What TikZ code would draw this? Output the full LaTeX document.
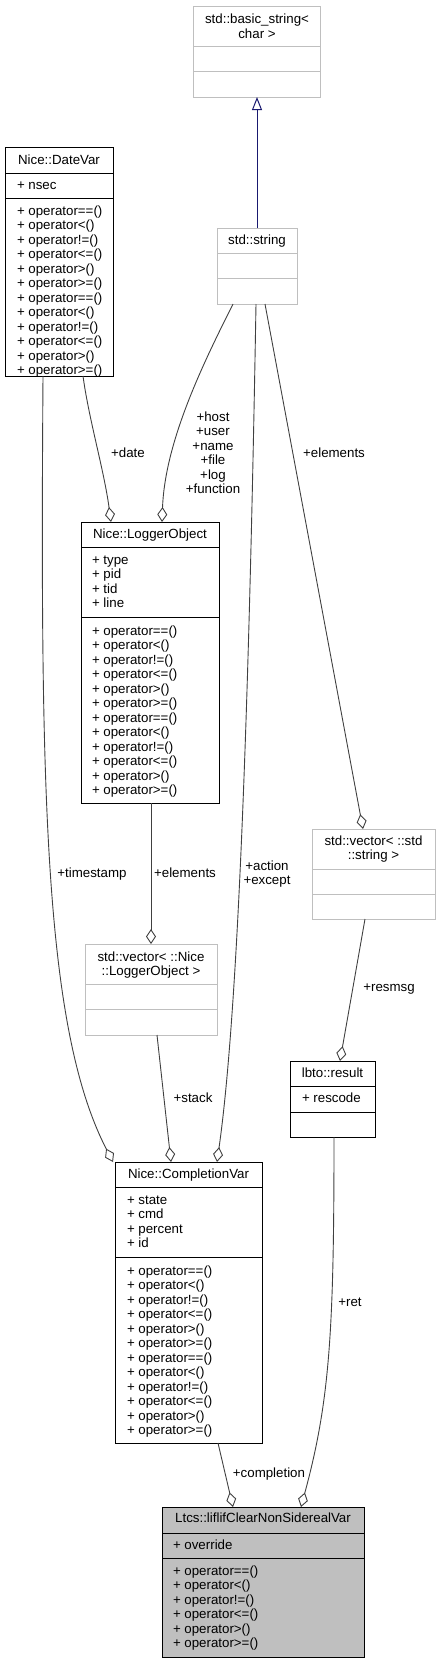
\documentclass[tikz,border=0pt]{standalone}
\usepackage{fontspec}
\newfontfamily\hv{Liberation Sans}
\usetikzlibrary{arrows.meta,calc}
\definecolor{edgec}{HTML}{404040}
\definecolor{gbord}{HTML}{BFBFBF}
\definecolor{ltfill}{HTML}{BFBFBF}
\definecolor{inhc}{HTML}{191970}
\newcommand\opsix{+ operator==()\\+ operator<()\\+ operator!=()\\+ operator<=()\\+ operator>()\\+ operator>=()}
\tikzset{
  cls/.style={draw=black, line width=1pt, fill=white, inner sep=0pt, outer sep=0pt},
  gcls/.style={draw=gbord, line width=1pt, fill=white, inner sep=0pt, outer sep=0pt},
  div/.style={draw=black, line width=1pt},
  gdiv/.style={draw=gbord, line width=1pt},
  txt/.style={font=\hv\fontsize{13.3}{14.5}\selectfont, inner sep=0pt, outer sep=0pt, text=black},
  lst/.style={txt, align=left, anchor=base west},
  ttl/.style={txt, anchor=base},
  lbl/.style={txt, align=center, anchor=center},
  conn/.style={draw=edgec, line width=0.9pt},
  agg/.style={conn, -{Diamond[open, length=15pt, width=10pt, line width=0.9pt]}},
  inh/.style={draw=inhc, line width=1pt, -{Triangle[open, length=13pt, width=10pt, line width=1pt]}}
}
\begin{document}
\begin{tikzpicture}[x=1pt,y=-1pt]
\useasboundingbox (0,0) rectangle (441,1663);
% std::basic_string<char>
\node[gcls, minimum width=127pt, minimum height=91pt] (bs) at (256.5,51.5) {};
\draw[gdiv] (193,46) -- (320,46);
\draw[gdiv] (193,71) -- (320,71);
\node[lbl] (bst) at (257,26) {std::basic\_string<\\char >};
% std::string
\node[gcls, minimum width=80pt, minimum height=76pt] (ss) at (257,266) {};
\draw[gdiv] (217,253) -- (297,253);
\draw[gdiv] (217,278) -- (297,278);
\node[ttl] (sst) at (257,244.7) {std::string};
% Nice::DateVar
\node[cls, minimum width=108pt, minimum height=229pt] (dv) at (59,261.5) {};
\draw[div] (5,173) -- (113,173);
\draw[div] (5,198) -- (113,198);
\node[ttl] (dvt) at (59,164.7) {Nice::DateVar};
\node[lst] (dva) at (17,189.5) {+ nsec};
\node[lst] (dvo) at (17,374.5) {\opsix\\\opsix};
% Nice::LoggerObject
\node[cls, minimum width=138pt, minimum height=281pt] (lo) at (150,662.5) {};
\draw[div] (81,547) -- (219,547);
\draw[div] (81,617) -- (219,617);
\node[ttl] (lot) at (150,538.7) {Nice::LoggerObject};
\node[lst] (loa) at (92,607.5) {+ type\\+ pid\\+ tid\\+ line};
\node[lst] (loo) at (92,794.5) {\opsix\\\opsix};
% std::vector< ::std::string >
\node[gcls, minimum width=123pt, minimum height=90pt] (vs) at (373.5,874) {};
\draw[gdiv] (312,869) -- (435,869);
\draw[gdiv] (312,894) -- (435,894);
\node[lbl] (vst) at (373.5,849) {std::vector< ::std\\::string >};
% std::vector< ::Nice::LoggerObject >
\node[gcls, minimum width=132pt, minimum height=91pt] (vn) at (151,989.5) {};
\draw[gdiv] (85,984) -- (217,984);
\draw[gdiv] (85,1009) -- (217,1009);
\node[lbl] (vnt) at (151,965) {std::vector< ::Nice\\::LoggerObject >};
% lbto::result
\node[cls, minimum width=85pt, minimum height=76pt] (lr) at (332.5,1099) {};
\draw[div] (290,1086) -- (375,1086);
\draw[div] (290,1112) -- (375,1112);
\node[ttl] (lrt) at (332.5,1077.7) {lbto::result};
\node[lst] (lra) at (302,1102.5) {+ rescode};
% Nice::CompletionVar
\node[cls, minimum width=147pt, minimum height=281pt] (cv) at (188.5,1302.5) {};
\draw[div] (115,1187) -- (262,1187);
\draw[div] (115,1257) -- (262,1257);
\node[ttl] (cvt) at (188.5,1178.7) {Nice::CompletionVar};
\node[lst] (cva) at (127,1247.5) {+ state\\+ cmd\\+ percent\\+ id};
\node[lst] (cvo) at (127,1434.5) {\opsix\\\opsix};
% Ltcs::liflifClearNonSiderealVar
\node[cls, fill=ltfill, minimum width=202pt, minimum height=150pt] (lt) at (263,1582) {};
\draw[div] (162,1533) -- (364,1533);
\draw[div] (162,1558) -- (364,1558);
\node[ttl] (ltt) at (263,1522.7) {Ltcs::liflifClearNonSiderealVar};
\node[lst] (lta) at (173,1549.5) {+ override};
\node[lst] (lto) at (173,1647.5) {\opsix};
% connectors
\draw[inh] ($(ss.north west)+(40,0)$) -- ($(bs.south west)+(64,0)$);
\draw[agg] ($(dv.south west)+(78,0)$) .. controls (89,420) and (104,470) .. ($(lo.north west)+(30,0)$);
\draw[agg] ($(ss.south west)+(16,0)$) .. controls (205,360) and (165,440) .. ($(lo.north west)+(81,0)$);
\draw[agg] ($(dv.south west)+(38,0)$) .. controls (40,800) and (45,1030) .. ($(cv.north west)+(-2,0)$);
\draw[agg] ($(ss.south west)+(39,0)$) .. controls (250,650) and (240,1000) .. ($(cv.north west)+(102,0)$);
\draw[agg] ($(ss.south west)+(48,0)$) -- ($(vs.north west)+(51,0)$);
\draw[agg] ($(lo.south west)+(70,0)$) -- ($(vn.north west)+(66,0)$);
\draw[agg] ($(vn.south west)+(72,0)$) -- ($(cv.north west)+(56,0)$);
\draw[agg] ($(vs.south west)+(53,0)$) -- ($(lr.north west)+(50,0)$);
\draw[agg] ($(cv.south west)+(103,0)$) -- ($(lt.north west)+(71,0)$);
\draw[agg] ($(lr.south west)+(44,0)$) .. controls (334,1330) and (330,1400) .. ($(lt.north west)+(139,0)$);
% labels
\node[lbl] (l1) at (128,453) {+date};
\node[lbl] (l2) at (213,452.5) {+host\\+user\\+name\\+file\\+log\\+function};
\node[lbl] (l3) at (334,453) {+elements};
\node[lbl] (l4) at (92,874) {+timestamp};
\node[lbl] (l5) at (185,873) {+elements};
\node[lbl] (l6) at (267,874) {+action\\+except};
\node[lbl] (l7) at (389,989) {+resmsg};
\node[lbl] (l8) at (193,1098) {+stack};
\node[lbl] (l9) at (269,1474) {+completion};
\node[lbl] (l10) at (350,1302) {+ret};
\end{tikzpicture}
\end{document}
